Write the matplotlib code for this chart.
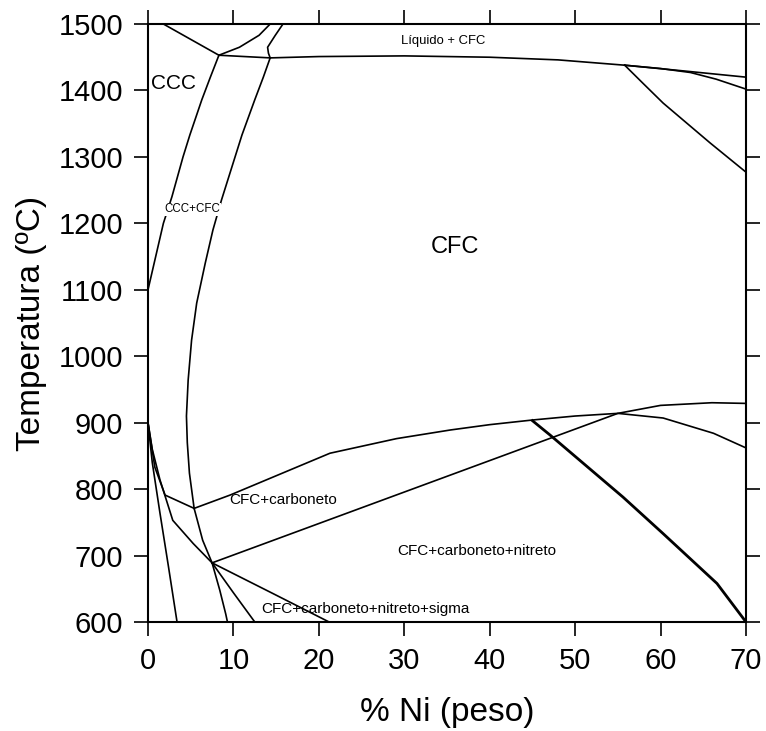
import numpy as np
import matplotlib
matplotlib.use('Agg')
import matplotlib.pyplot as plt

plt.rcParams['font.family'] = ['Liberation Sans', 'DejaVu Sans']

# ------------------------------------------------------------
# Phase boundaries: (% Ni, T in C)
# ------------------------------------------------------------
top_left_x = [1.8, 8.3]
top_left_t = [1500, 1453]

liq_curve_x = [8.3, 10.7, 13.0, 14.3]
liq_curve_t = [1453, 1465, 1483, 1500]

liq_kink_x = [15.8, 14.9, 14.0, 14.1, 14.3]
liq_kink_t = [1500, 1483, 1465, 1456, 1449]

solidus_x = [8.3, 14.3, 20, 30, 40, 48, 55.8]
solidus_t = [1453, 1449, 1451, 1452, 1450, 1446, 1438]

right_a_x = [55.8, 63, 70]
right_a_t = [1438, 1429, 1420]

right_b_x = [55.8, 60, 63.5, 66.5, 70]
right_b_t = [1438, 1433, 1427, 1417, 1402]

right_c_x = [55.8, 58, 60.3, 65.8, 70]
right_c_t = [1438, 1410, 1381, 1321, 1277]

ccc_x = [0, 1.8, 2.8, 4.1, 4.9, 6.3, 7.3, 8.3]
ccc_t = [1100, 1200, 1240, 1300, 1333, 1386, 1420, 1453]

cfc_x = [14.3, 13.5, 12.5, 11.0, 8.6, 7.6, 6.7, 5.7, 5.1, 4.7, 4.5, 4.6,
         4.85, 5.4, 6.4, 7.5, 8.4, 9.1, 9.3]
cfc_t = [1449, 1420, 1386, 1333, 1235, 1190, 1140, 1080, 1024, 964, 910, 870,
         824, 771, 723, 689, 648, 612, 600]

carb_a_x = [0, 0.8, 2.0, 5.4]
carb_a_t = [900, 833, 791, 771]

carb_b_x = [0, 0.5, 1.4, 2.9, 5.3, 7.5]
carb_b_t = [900, 860, 814, 753, 718, 689]

carb_c_x = [0, 0.5, 1.4, 2.4, 3.4]
carb_c_t = [900, 840, 764, 683, 600]

carb_top_x = [5.4, 9.6, 21.3, 29.1, 35.4, 40, 45, 50, 55, 60.3, 66.2, 70]
carb_top_t = [771, 791, 854, 876, 889, 897, 904, 910, 914, 907, 884, 862]

nitr_x = [7.5, 55, 60, 66, 70]
nitr_t = [689, 914, 926, 930, 929]

thick_x = [45, 47.1, 55.6, 60.3, 66.6, 70]
thick_t = [903, 881, 788, 733, 658, 600]

sigma_x = [7.5, 14.6, 21.2]
sigma_t = [689, 643, 600]

sigma_b_x = [7.5, 10.0, 12.5]
sigma_b_t = [689, 644, 600]

thin_lines = [
    (top_left_x, top_left_t), (liq_curve_x, liq_curve_t), (liq_kink_x, liq_kink_t),
    (solidus_x, solidus_t), (right_a_x, right_a_t), (right_b_x, right_b_t),
    (right_c_x, right_c_t), (ccc_x, ccc_t), (cfc_x, cfc_t),
    (carb_a_x, carb_a_t), (carb_b_x, carb_b_t), (carb_c_x, carb_c_t),
    (carb_top_x, carb_top_t), (nitr_x, nitr_t),
    (sigma_x, sigma_t), (sigma_b_x, sigma_b_t),
]

# ------------------------------------------------------------
# Figure
# ------------------------------------------------------------
fig = plt.figure(figsize=(7.66, 7.31), dpi=100)
ax = fig.add_axes([148 / 766, 109 / 731, 598 / 766, 598 / 731])

for xs, ts in thin_lines:
    ax.plot(xs, ts, '-', color='black', linewidth=1.2, zorder=2)
ax.plot(thick_x, thick_t, '-', color='black', linewidth=2.0, zorder=2)

ax.text(3.0, 1411, 'CCC', fontsize=15, ha='center', va='center')
ax.text(5.15, 1221, 'CCC+CFC', fontsize=8.3, ha='center', va='center',
        bbox=dict(facecolor='white', edgecolor='none', pad=0.5), zorder=3)
ax.text(34.6, 1474, 'Líquido + CFC', fontsize=9.4, ha='center', va='center')
ax.text(35.9, 1164, 'CFC', fontsize=17, ha='center', va='center')
ax.text(15.8, 783, 'CFC+carboneto', fontsize=11, ha='center', va='center')
ax.text(38.5, 707, 'CFC+carboneto+nitreto', fontsize=11, ha='center', va='center')
ax.text(25.5, 619, 'CFC+carboneto+nitreto+sigma', fontsize=11, ha='center', va='center')

ax.set_xlim(0, 70)
ax.set_ylim(600, 1500)
ax.set_xticks(np.arange(0, 71, 10))
ax.set_yticks(np.arange(600, 1501, 100))
ax.tick_params(direction='out', length=10, width=1.2, labelsize=21, pad=8,
               top=True, right=True, labeltop=False, labelright=False)
for sp in ax.spines.values():
    sp.set_linewidth(1.5)

ax.set_xlabel('% Ni (peso)', fontsize=24, labelpad=16)
ax.set_ylabel('Temperatura (ºC)', fontsize=24, labelpad=8)

fig.savefig('out.png', dpi=100, facecolor='white')
plt.close()
